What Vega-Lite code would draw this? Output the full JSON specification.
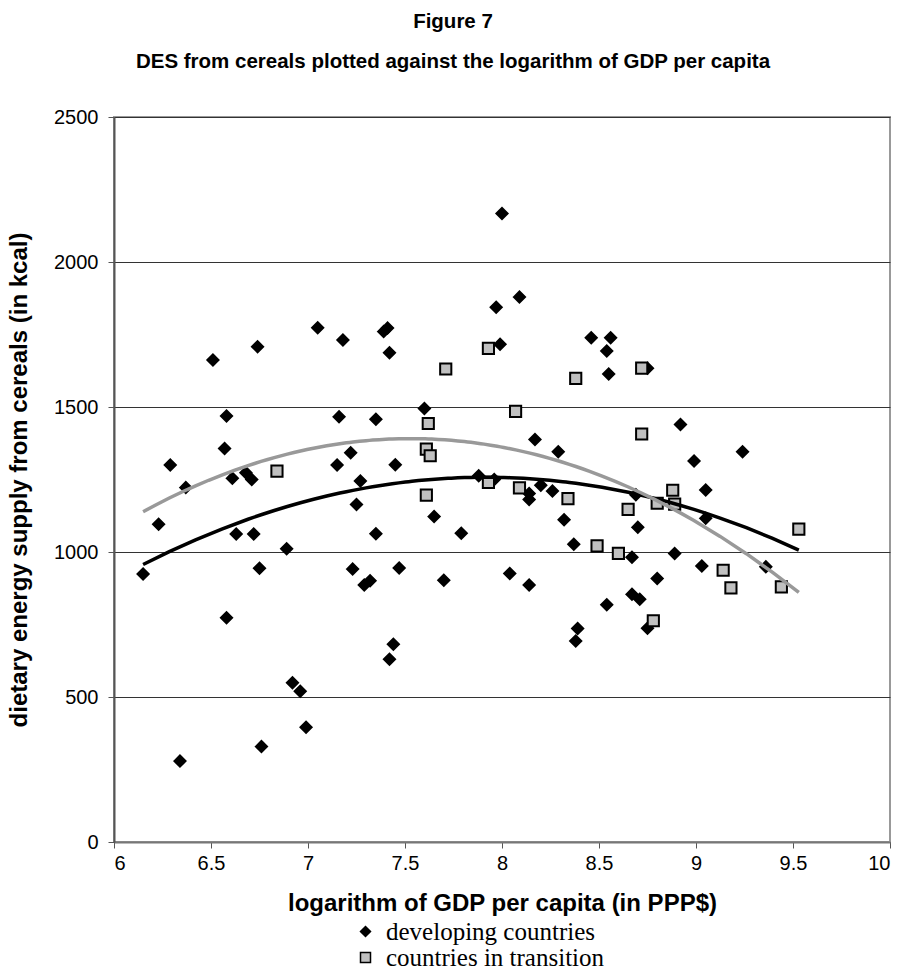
{
  "$schema": "https://vega.github.io/schema/vega-lite/v6.json",
  "width": 776,
  "height": 725,
  "autosize": "none",
  "padding": {"left": 114, "top": 117, "right": 16, "bottom": 129},
  "background": "white",
  "title": {
    "text": ["Figure 7", "DES from cereals plotted against the logarithm of GDP per capita"],
    "font": "Liberation Sans",
    "fontSize": 20.5,
    "fontWeight": "bold",
    "lineHeight": 40,
    "anchor": "middle",
    "dx": -49,
    "offset": 35,
    "color": "black"
  },
  "config": {
    "view": {"stroke": "#999999", "strokeWidth": 2},
    "axis": {
      "labelFont": "Liberation Sans",
      "labelFontSize": 20,
      "labelColor": "black",
      "titleFont": "Liberation Sans",
      "titleFontSize": 24,
      "titleFontWeight": "bold",
      "titleColor": "black",
      "domainColor": "#555555",
      "tickColor": "#555555",
      "tickSize": 6
    }
  },
  "datasets": {
    "pts": [
      {"x": 6.15, "y": 924, "group": "developing countries"},
      {"x": 6.23, "y": 1096, "group": "developing countries"},
      {"x": 6.29, "y": 1300, "group": "developing countries"},
      {"x": 6.37, "y": 1222, "group": "developing countries"},
      {"x": 6.34, "y": 279, "group": "developing countries"},
      {"x": 6.51, "y": 1662, "group": "developing countries"},
      {"x": 6.58, "y": 1469, "group": "developing countries"},
      {"x": 6.57, "y": 1357, "group": "developing countries"},
      {"x": 6.61, "y": 1254, "group": "developing countries"},
      {"x": 6.68, "y": 1273, "group": "developing countries"},
      {"x": 6.71, "y": 1250, "group": "developing countries"},
      {"x": 6.74, "y": 1708, "group": "developing countries"},
      {"x": 6.63, "y": 1062, "group": "developing countries"},
      {"x": 6.72, "y": 1062, "group": "developing countries"},
      {"x": 6.89, "y": 1011, "group": "developing countries"},
      {"x": 6.75, "y": 944, "group": "developing countries"},
      {"x": 6.58, "y": 773, "group": "developing countries"},
      {"x": 6.92, "y": 549, "group": "developing countries"},
      {"x": 6.96, "y": 520, "group": "developing countries"},
      {"x": 6.99, "y": 396, "group": "developing countries"},
      {"x": 6.76, "y": 329, "group": "developing countries"},
      {"x": 7.05, "y": 1773, "group": "developing countries"},
      {"x": 7.18, "y": 1731, "group": "developing countries"},
      {"x": 7.16, "y": 1466, "group": "developing countries"},
      {"x": 7.15, "y": 1300, "group": "developing countries"},
      {"x": 7.22, "y": 1342, "group": "developing countries"},
      {"x": 7.27, "y": 1245, "group": "developing countries"},
      {"x": 7.25, "y": 1164, "group": "developing countries"},
      {"x": 7.35, "y": 1063, "group": "developing countries"},
      {"x": 7.23, "y": 941, "group": "developing countries"},
      {"x": 7.29, "y": 886, "group": "developing countries"},
      {"x": 7.32, "y": 901, "group": "developing countries"},
      {"x": 7.47, "y": 945, "group": "developing countries"},
      {"x": 7.44, "y": 682, "group": "developing countries"},
      {"x": 7.42, "y": 630, "group": "developing countries"},
      {"x": 7.39, "y": 1760, "group": "developing countries"},
      {"x": 7.41, "y": 1772, "group": "developing countries"},
      {"x": 7.42, "y": 1687, "group": "developing countries"},
      {"x": 7.35, "y": 1458, "group": "developing countries"},
      {"x": 7.45, "y": 1301, "group": "developing countries"},
      {"x": 7.6, "y": 1495, "group": "developing countries"},
      {"x": 7.65, "y": 1122, "group": "developing countries"},
      {"x": 7.79, "y": 1065, "group": "developing countries"},
      {"x": 7.7, "y": 903, "group": "developing countries"},
      {"x": 7.88, "y": 1263, "group": "developing countries"},
      {"x": 7.96, "y": 1250, "group": "developing countries"},
      {"x": 7.97, "y": 1844, "group": "developing countries"},
      {"x": 7.99, "y": 1716, "group": "developing countries"},
      {"x": 8.0, "y": 2167, "group": "developing countries"},
      {"x": 8.09, "y": 1879, "group": "developing countries"},
      {"x": 8.04, "y": 926, "group": "developing countries"},
      {"x": 8.14, "y": 886, "group": "developing countries"},
      {"x": 8.14, "y": 1202, "group": "developing countries"},
      {"x": 8.14, "y": 1181, "group": "developing countries"},
      {"x": 8.17, "y": 1388, "group": "developing countries"},
      {"x": 8.2, "y": 1230, "group": "developing countries"},
      {"x": 8.26, "y": 1210, "group": "developing countries"},
      {"x": 8.29, "y": 1346, "group": "developing countries"},
      {"x": 8.32, "y": 1111, "group": "developing countries"},
      {"x": 8.37, "y": 1027, "group": "developing countries"},
      {"x": 8.39, "y": 736, "group": "developing countries"},
      {"x": 8.38, "y": 693, "group": "developing countries"},
      {"x": 8.46, "y": 1739, "group": "developing countries"},
      {"x": 8.56, "y": 1739, "group": "developing countries"},
      {"x": 8.54, "y": 1693, "group": "developing countries"},
      {"x": 8.55, "y": 1614, "group": "developing countries"},
      {"x": 8.54, "y": 818, "group": "developing countries"},
      {"x": 8.67, "y": 854, "group": "developing countries"},
      {"x": 8.71, "y": 837, "group": "developing countries"},
      {"x": 8.75, "y": 737, "group": "developing countries"},
      {"x": 8.67, "y": 982, "group": "developing countries"},
      {"x": 8.7, "y": 1085, "group": "developing countries"},
      {"x": 8.69, "y": 1197, "group": "developing countries"},
      {"x": 8.75, "y": 1634, "group": "developing countries"},
      {"x": 8.8, "y": 909, "group": "developing countries"},
      {"x": 8.89, "y": 995, "group": "developing countries"},
      {"x": 8.92, "y": 1440, "group": "developing countries"},
      {"x": 8.99, "y": 1314, "group": "developing countries"},
      {"x": 9.05, "y": 1214, "group": "developing countries"},
      {"x": 9.05, "y": 1116, "group": "developing countries"},
      {"x": 9.03, "y": 952, "group": "developing countries"},
      {"x": 9.24, "y": 1346, "group": "developing countries"},
      {"x": 9.36, "y": 949, "group": "developing countries"},
      {"x": 6.84, "y": 1279, "group": "countries in transition"},
      {"x": 7.71, "y": 1631, "group": "countries in transition"},
      {"x": 7.93, "y": 1702, "group": "countries in transition"},
      {"x": 7.62, "y": 1443, "group": "countries in transition"},
      {"x": 7.61, "y": 1355, "group": "countries in transition"},
      {"x": 7.63, "y": 1332, "group": "countries in transition"},
      {"x": 7.61, "y": 1196, "group": "countries in transition"},
      {"x": 7.93, "y": 1240, "group": "countries in transition"},
      {"x": 8.07, "y": 1485, "group": "countries in transition"},
      {"x": 8.09, "y": 1221, "group": "countries in transition"},
      {"x": 8.34, "y": 1184, "group": "countries in transition"},
      {"x": 8.38, "y": 1599, "group": "countries in transition"},
      {"x": 8.49, "y": 1021, "group": "countries in transition"},
      {"x": 8.6, "y": 995, "group": "countries in transition"},
      {"x": 8.65, "y": 1147, "group": "countries in transition"},
      {"x": 8.72, "y": 1634, "group": "countries in transition"},
      {"x": 8.72, "y": 1407, "group": "countries in transition"},
      {"x": 8.8, "y": 1168, "group": "countries in transition"},
      {"x": 8.88, "y": 1213, "group": "countries in transition"},
      {"x": 8.89, "y": 1165, "group": "countries in transition"},
      {"x": 9.14, "y": 937, "group": "countries in transition"},
      {"x": 9.18, "y": 876, "group": "countries in transition"},
      {"x": 9.44, "y": 880, "group": "countries in transition"},
      {"x": 9.53, "y": 1079, "group": "countries in transition"},
      {"x": 8.78, "y": 763, "group": "countries in transition"}
    ]
  },
  "data": {"name": "pts"},
  "layer": [
    {
      "mark": {"type": "point", "filled": true, "opacity": 1, "stroke": "black", "strokeWidth": 2, "size": 125},
      "encoding": {
        "x": {
          "field": "x", "type": "quantitative",
          "scale": {"domain": [6, 10], "nice": false, "zero": false},
          "axis": {"title": "logarithm of GDP per capita (in PPP$)", "values": [6, 6.5, 7, 7.5, 8, 8.5, 9, 9.5, 10], "format": "~g", "grid": false, "labelPadding": 5, "titlePadding": 18, "domainColor": "#777777", "domainWidth": 2}
        },
        "y": {
          "field": "y", "type": "quantitative",
          "scale": {"domain": [0, 2500], "nice": false},
          "axis": {"title": "dietary energy supply from cereals (in kcal)", "values": [0, 500, 1000, 1500, 2000, 2500], "format": "d", "grid": true, "gridColor": "#333333", "gridWidth": 1, "labelPadding": 10, "titlePadding": 22, "domainWidth": 2}
        },
        "shape": {
          "field": "group", "type": "nominal",
          "scale": {"domain": ["developing countries", "countries in transition"], "range": ["diamond", "square"]},
          "legend": {"title": null, "orient": "none", "legendX": 239, "legendY": 802, "labelFont": "Liberation Serif", "labelFontSize": 25, "labelColor": "black", "labelLimit": 0, "symbolSize": 100, "rowPadding": 0, "labelOffset": 8,
            "encode": {"symbols": {"update": {"stroke": {"value": "black"}, "strokeWidth": {"value": 1.5}}}}}
        },
        "fill": {
          "field": "group", "type": "nominal",
          "scale": {"domain": ["developing countries", "countries in transition"], "range": ["black", "#c0c0c0"]},
          "legend": {"title": null, "orient": "none", "legendX": 239, "legendY": 802, "labelFont": "Liberation Serif", "labelFontSize": 25, "labelColor": "black", "labelLimit": 0, "symbolSize": 100, "rowPadding": 0, "labelOffset": 8,
            "encode": {"symbols": {"update": {"stroke": {"value": "black"}, "strokeWidth": {"value": 1.5}}}}}
        },
        "order": {"field": "group", "type": "nominal", "sort": "descending"}
      }
    },
    {
      "transform": [
        {"filter": "datum.group === 'developing countries'"},
        {"regression": "y", "on": "x", "method": "poly", "order": 2, "extent": [6.15, 9.53]}
      ],
      "mark": {"type": "line", "strokeWidth": 3.5, "color": "black"},
      "encoding": {
        "x": {"field": "x", "type": "quantitative"},
        "y": {"field": "y", "type": "quantitative"}
      }
    },
    {
      "transform": [
        {"filter": "datum.group === 'countries in transition'"},
        {"regression": "y", "on": "x", "method": "poly", "order": 2, "extent": [6.15, 9.53]}
      ],
      "mark": {"type": "line", "strokeWidth": 3.5, "color": "#999999"},
      "encoding": {
        "x": {"field": "x", "type": "quantitative"},
        "y": {"field": "y", "type": "quantitative"}
      }
    }
  ]
}
